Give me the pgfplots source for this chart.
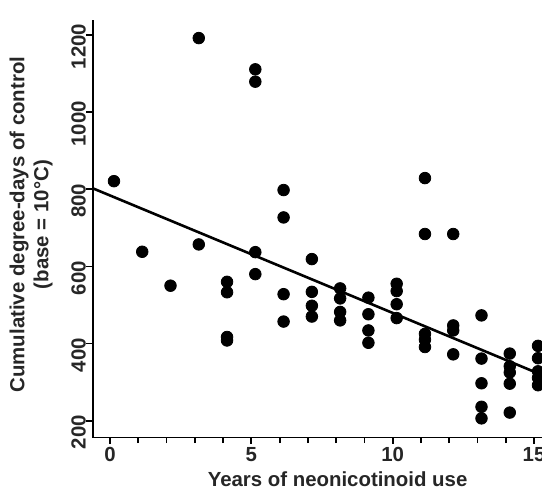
\documentclass[border=0pt]{standalone}
\usepackage{fontspec}
\setmainfont{Liberation Sans}
\usepackage{pgfplots}
\pgfplotsset{compat=1.18}
\usepackage{pgfplotstable}

% points sit a little right of the integer ticks in the scan
\pgfplotstableread{
x y
0.14 821
1.14 638
2.14 550
3.14 1192
3.14 657
4.14 560
4.14 533
4.14 417
4.14 408
5.14 1111
5.14 1079
5.14 637
5.14 580
6.14 798
6.14 727
6.14 528
6.14 457
7.14 619
7.14 534
7.14 498
7.14 470
8.14 543
8.14 517
8.14 482
8.14 460
9.14 519
9.14 476
9.14 434
9.14 402
10.14 555
10.14 536
10.14 502
10.14 466
11.14 829
11.14 684
11.14 425
11.14 410
11.14 391
12.14 684
12.14 447
12.14 434
12.14 372
13.14 473
13.14 361
13.14 297
13.14 236
13.14 206
14.14 374
14.14 341
14.14 325
14.14 296
14.14 221
15.14 394
15.14 362
15.14 328
15.14 311
15.14 292
}\pts

\begin{document}
\begin{tikzpicture}
\begin{axis}[
  at={(0,0)}, anchor=south west,
  scale only axis, width=224.65pt, height=208.75pt,
  xmin=-0.612, xmax=15.28, ymin=156.4, ymax=1238.9,
  axis lines=left, axis line style={-, line width=0.9pt, black},
  clip=false,
  tick align=outside, tick style={line width=0.9pt, black},
  major tick length=3.2pt, minor tick length=2.8pt,
  xtick={0,5,10,15}, minor xtick={1,2,3,4,6,7,8,9,11,12,13,14},
  ytick={200,400,...,1200},
  /pgf/number format/assume math mode=true,
  /pgf/number format/1000 sep={},
  tick label style={font=\bfseries\fontsize{10.2}{12}\selectfont, text=black!85},
  xticklabel style={anchor=north, inner sep=0pt, yshift=-1.5pt},
  yticklabel style={rotate=90, anchor=south, inner sep=0pt, xshift=-5.8pt},
  xlabel={Years of neonicotinoid use},
  every axis x label/.style={at={(axis description cs:0.545,0)}, anchor=north,
    inner sep=0pt, yshift=-17pt, font=\bfseries\fontsize{10.2}{12}\selectfont, text=black!85},
  ylabel={Cumulative degree-days of control\\(base = 10°C)},
  every axis y label/.style={at={(axis description cs:-0.0886,0.51)}, rotate=90,
    anchor=south, inner sep=0pt, align=center,
    font=\bfseries\fontsize{10.2}{12}\selectfont, text=black!85},
]
\addplot[only marks, mark=*, mark size=2.9pt, black] table[x=x, y=y] {\pts};
\addplot[line width=1.3pt, black] coordinates {(-0.612,802.6) (15.28,318.5)};
\end{axis}
\pgfresetboundingbox
\useasboundingbox (-46.35pt,-25.75pt) rectangle (224.65pt,218.75pt);
\end{tikzpicture}
\end{document}
